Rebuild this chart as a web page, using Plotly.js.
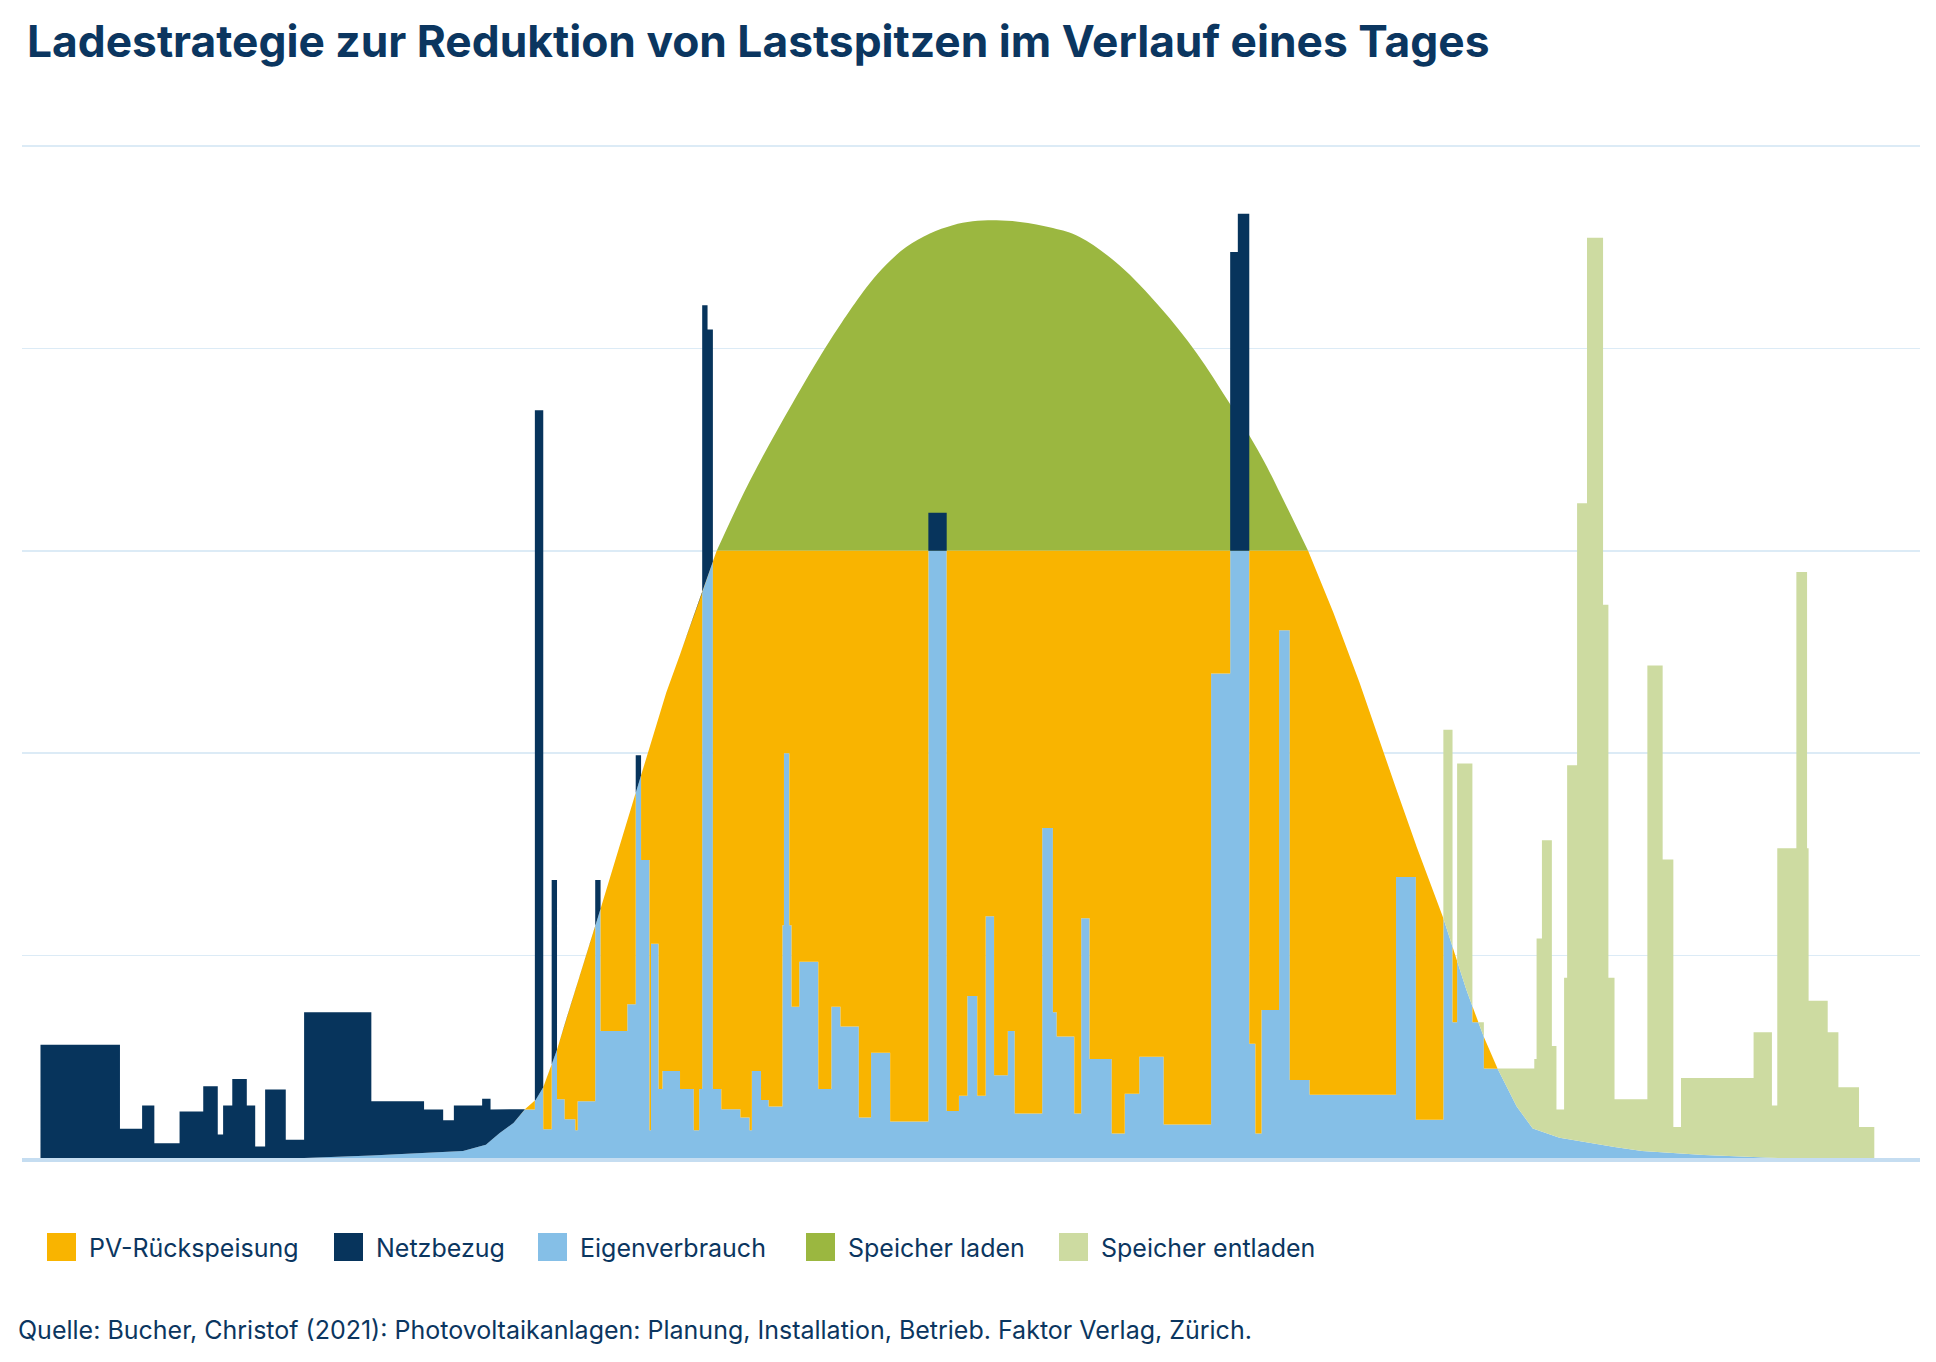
<!DOCTYPE html>
<html>
<head>
<meta charset="utf-8">
<script src="https://cdn.plot.ly/plotly-3.0.1.min.js"></script>
<style>
  html, body { margin: 0; padding: 0; background: #fff; }
  #chart { width: 1936px; height: 1362px; }
</style>
</head>
<body>
<div id="chart"></div>
<script>
// Lastgang: Zeitpunkte der Lastwechsel [h] und Last je Abschnitt [kW]
const loadTime = [0, 1.04, 1.33, 1.49, 1.82, 2.13, 2.32, 2.39, 2.51, 2.70, 2.81, 2.94, 3.21, 3.45, 4.33,
  5.02, 5.27, 5.41, 5.78, 5.89, 6.47, 6.58, 6.69, 6.76, 6.86, 7.00, 7.03, 7.26, 7.33, 7.68,
  7.79, 7.86, 7.97, 7.99, 8.09, 8.14, 8.37, 8.55, 8.62, 8.66, 8.73, 8.80, 8.91, 9.16, 9.28,
  9.31, 9.43, 9.53, 9.71, 9.73, 9.80, 9.83, 9.93, 10.18, 10.35, 10.47, 10.71, 10.87, 11.12, 11.62,
  11.86, 12.02, 12.13, 12.26, 12.37, 12.48, 12.66, 12.75, 13.11, 13.25, 13.30, 13.53, 13.62, 13.73, 14.02,
  14.19, 14.38, 14.70, 15.32, 15.57, 15.67, 15.82, 15.90, 15.98, 16.21, 16.35, 16.61, 17.74, 18.00, 18.36,
  18.48, 18.54, 18.74, 18.89, 19.55, 19.58, 19.65, 19.78, 19.84, 19.94, 19.98, 20.11, 20.24, 20.45, 20.52,
  20.60, 21.03, 21.23, 21.37, 21.47, 22.42, 22.66, 22.73, 22.98, 23.12, 23.14, 23.39, 23.53, 23.80, 24.00];
const loadKW = [0.56, 0.144, 0.26, 0.073, 0.23, 0.354, 0.116, 0.26, 0.39, 0.26, 0.057, 0.338, 0.09, 0.72,
  0.28, 0.24, 0.187, 0.26, 0.293, 0.24, 3.695, 0.142, 1.373, 0.29, 0.192, 0.137, 0.28, 1.373, 0.627,
  0.76, 1.99, 1.473, 0.137, 1.058, 0.341, 0.43, 0.341, 0.137, 0.341, 4.213, 4.093, 0.341, 0.241, 0.2,
  0.137, 0.43, 0.287, 0.254, 1.15, 2.0, 1.15, 0.747, 0.97, 0.341, 0.747, 0.65, 0.2, 0.52, 0.18,
  3.188, 0.232, 0.307, 0.80, 0.307, 1.195, 0.409, 0.628, 0.22, 1.63, 0.72, 0.60, 0.22, 1.185, 0.489,
  0.121, 0.318, 0.50, 0.166, 2.394, 4.477, 4.666, 0.564, 0.121, 0.731, 2.608, 0.386, 0.313, 1.388, 0.189,
  2.116, 0.671, 1.949, 0.671, 0.442, 0.489, 1.084, 1.57, 0.553, 0.24, 0.89, 1.94, 3.235, 4.547, 2.733,
  0.89, 0.29, 2.433, 1.475, 0.153, 0.395, 0.621, 0.26, 1.53, 2.895, 1.53, 0.777, 0.621, 0.349, 0.153];

// PV-Erzeugung [kW]
const pvTime = [3.45, 4.33, 4.96, 5.53, 5.83, 6.01, 6.19, 6.34, 6.48, 6.58, 6.76, 6.86, 7.26, 7.75, 8.19,
  8.63, 8.85, 9.18, 9.45, 9.84, 10.28, 10.55, 10.85, 11.07, 11.33, 11.64, 11.94, 12.20, 12.51, 12.82,
  13.25, 13.60, 14.12, 14.65, 15.13, 15.56, 15.98, 16.23, 16.59, 16.92,
  17.26, 17.61, 18.01, 18.36, 18.66, 18.88, 19.07, 19.32, 19.53, 19.88, 20.32, 20.96, 21.77, 22.74];
const pvKW = [0, 0.012, 0.024, 0.035, 0.066, 0.124, 0.173, 0.241, 0.287, 0.349, 0.535, 0.66, 1.145, 1.754, 2.30,
  2.76, 3.0, 3.267, 3.465, 3.728, 4.008, 4.164, 4.321, 4.415, 4.501, 4.568, 4.609, 4.628, 4.633, 4.625,
  4.595, 4.551, 4.411, 4.205, 3.978, 3.73, 3.465, 3.28, 3.0, 2.695,
  2.352, 1.966, 1.538, 1.185, 0.832, 0.607, 0.441, 0.254, 0.146, 0.10, 0.07, 0.035, 0.015, 0];

const feedInLimit = 3.0;   // Einspeisegrenze, Überschuss geht in den Speicher
const batteryFrom = 18.2;  // ab hier deckt der Speicher den Fehlbetrag

const colors = {
  feed: '#f9b400', grid: '#07345c', self: '#85bfe7', charge: '#9bb740', discharge: '#cddba1'
};
const textColor = '#0b3660';
const fontFamily = 'Inter, Roboto, sans-serif';

function pvAt(t) {
  const n = pvTime.length;
  if (t <= pvTime[0] || t >= pvTime[n - 1]) return 0;
  let i = 1;
  while (pvTime[i] < t) i++;
  const f = (t - pvTime[i - 1]) / (pvTime[i] - pvTime[i - 1]);
  return pvKW[i - 1] + f * (pvKW[i] - pvKW[i - 1]);
}

// gemeinsames Zeitraster: Lastwechsel, PV-Stützstellen und Schnittpunkte
const grid = [];
for (let i = 0; i < loadKW.length; i++) {
  const a = loadTime[i], b = loadTime[i + 1], L = loadKW[i];
  let ts = [a, b];
  pvTime.forEach(t => { if (t > a && t < b) ts.push(t); });
  ts.sort((p, q) => p - q);
  const extra = [];
  for (let k = 0; k < ts.length - 1; k++) {
    const p0 = pvAt(ts[k]), p1 = pvAt(ts[k + 1]);
    [L, feedInLimit].forEach(lv => {
      if ((p0 - lv) * (p1 - lv) < 0) extra.push(ts[k] + (lv - p0) / (p1 - p0) * (ts[k + 1] - ts[k]));
    });
  }
  ts = ts.concat(extra).sort((p, q) => p - q);
  ts.forEach(t => grid.push({ t: t, L: L, pv: pvAt(t) }));
}

const x = grid.map(g => g.t);
const mpc = g => Math.min(g.pv, feedInLimit);

// Speicher laden: nur die PV-Stützstellen oberhalb der Einspeisegrenze, geglättet
const chargeX = pvTime.filter((t, i) => pvKW[i] >= feedInLimit);
const chargeY = pvKW.filter(v => v >= feedInLimit);

function band(name, xs, y, color, fill, shape) {
  return {
    type: 'scatter', mode: 'lines', name: name, x: xs, y: y,
    fill: fill, fillcolor: color, line: { width: 0, color: color, shape: shape || 'linear' },
    hoverinfo: 'skip', showlegend: false
  };
}

const traces = [
  band('Grenze', chargeX, chargeX.map(() => feedInLimit), 'rgba(0,0,0,0)', 'none'),
  band('Speicher laden', chargeX, chargeY, colors.charge, 'tonexty', 'spline'),
  band('Eigenverbrauch', x, grid.map(g => Math.min(g.L, mpc(g))), colors.self, 'tozeroy'),
  band('PV-Rückspeisung', x, grid.map(g => mpc(g)), colors.feed, 'tonexty'),
  band('Netzbezug', x, grid.map(g => g.t < batteryFrom ? Math.max(g.L, mpc(g)) : mpc(g)), colors.grid, 'tonexty'),
  band('Speicher entladen', x, grid.map(g => Math.max(g.L, mpc(g))), colors.discharge, 'tonexty')
];

// Seitenmaße in Pixeln
const W = 1936, H = 1362;
const mL = 22, mR = 16, mT = 142, mB = 204;
const plotW = W - mL - mR, plotH = H - mT - mB;
const px = v => (v - mL) / plotW;
const py = v => (H - mB - v) / plotH;

const legendItems = [
  ['PV-Rückspeisung', colors.feed, 47],
  ['Netzbezug', colors.grid, 334],
  ['Eigenverbrauch', colors.self, 538],
  ['Speicher laden', colors.charge, 806],
  ['Speicher entladen', colors.discharge, 1059]
];
const shapes = legendItems.map(it => ({
  type: 'rect', xref: 'paper', yref: 'paper',
  x0: px(it[2]), x1: px(it[2] + 29), y0: py(1261), y1: py(1233),
  fillcolor: it[1], line: { width: 0 }
}));
const annotations = legendItems.map(it => ({
  xref: 'paper', yref: 'paper', x: px(it[2] + 40), y: py(1248),
  xanchor: 'left', yanchor: 'middle', showarrow: false, text: it[0],
  font: { family: fontFamily, size: 25, color: textColor }
}));
annotations.push({
  xref: 'paper', yref: 'paper', x: px(16), y: py(1330),
  xanchor: 'left', yanchor: 'middle', showarrow: false,
  text: 'Quelle: Bucher, Christof (2021): Photovoltaikanlagen: Planung, Installation, Betrieb. Faktor Verlag, Zürich.',
  font: { family: fontFamily, size: 25, color: textColor }
});

const layout = {
  width: W, height: H,
  margin: { l: mL, r: mR, t: mT, b: mB },
  paper_bgcolor: '#ffffff', plot_bgcolor: '#ffffff',
  title: {
    text: 'Ladestrategie zur Reduktion von Lastspitzen im Verlauf eines Tages',
    font: { family: fontFamily, size: 44.3, weight: 700, color: textColor },
    x: 27 / W, xref: 'container', xanchor: 'left',
    y: 1 - 41 / H, yref: 'container', yanchor: 'middle'
  },
  xaxis: {
    range: [-0.242, 24.598], showgrid: false, zeroline: false,
    showticklabels: false, ticks: '', showline: true, linecolor: '#c5ddf1', linewidth: 4
  },
  yaxis: {
    range: [0, 5.02], dtick: 1, showgrid: true, gridcolor: '#dcebf6', gridwidth: 1.5,
    zeroline: false, showticklabels: false, ticks: '', showline: false
  },
  shapes: shapes,
  annotations: annotations,
  showlegend: false
};

Plotly.newPlot('chart', traces, layout, { displayModeBar: false, staticPlot: true });
</script>
</body>
</html>
